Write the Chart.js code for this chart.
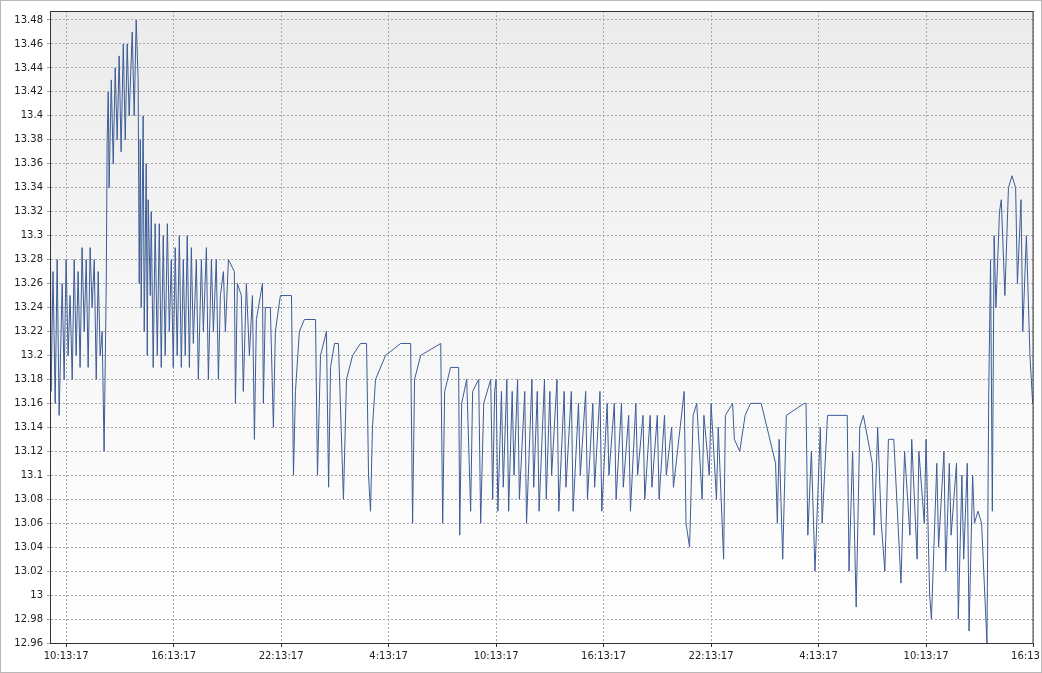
<!DOCTYPE html>
<html>
<head>
<meta charset="utf-8">
<script src="https://cdn.jsdelivr.net/npm/chart.js@4/dist/chart.umd.min.js"></script>
<style>
  html, body { margin: 0; padding: 0; background: #fff; overflow: hidden; }
  #wrap { width: 1042px; height: 673px; box-sizing: border-box; border: 1px solid #b8b8b8; overflow: hidden; }
</style>
</head>
<body>
<div id="wrap"><canvas id="volts" width="1058" height="671"></canvas></div>
<script>
// hours since 10:13:17 on the first day
const hours = [
  -0.89, -0.84, -0.73, -0.61, -0.50, -0.39, -0.22, -0.11, 0.00, 0.11, 0.22, 0.34, 0.45, 0.56, 0.67, 0.78,
  0.89, 1.01, 1.12, 1.23, 1.34, 1.45, 1.57, 1.68, 1.79, 1.90, 2.01, 2.12, 2.24, 2.29, 2.35, 2.40,
  2.52, 2.63, 2.74, 2.85, 2.96, 3.07, 3.19, 3.30, 3.41, 3.52, 3.69, 3.80, 3.91, 4.02, 4.08, 4.14,
  4.19, 4.30, 4.36, 4.47, 4.53, 4.58, 4.70, 4.75, 4.86, 4.97, 5.09, 5.20, 5.31, 5.42, 5.53, 5.65,
  5.76, 5.87, 5.98, 6.09, 6.20, 6.32, 6.43, 6.54, 6.65, 6.76, 6.88, 6.99, 7.10, 7.27, 7.38, 7.55,
  7.66, 7.83, 7.94, 8.11, 8.22, 8.38, 8.50, 8.61, 8.78, 8.89, 9.06, 9.39, 9.45, 9.56, 9.78, 9.89,
  10.06, 10.23, 10.40, 10.51, 10.62, 10.96, 11.01, 11.12, 11.40, 11.57, 11.68, 11.96, 12.58, 12.69, 12.80, 13.02,
  13.30, 13.92, 14.03, 14.20, 14.53, 14.65, 14.76, 14.98, 15.20, 15.48, 15.65, 15.99, 16.43, 16.77, 16.88, 16.99,
  17.10, 17.27, 17.83, 18.67, 19.23, 19.34, 19.45, 19.79, 20.91, 21.02, 21.13, 21.46, 21.91, 21.97, 22.08, 22.36,
  22.58, 22.69, 23.03, 23.14, 23.31, 23.70, 23.81, 23.92,
  24.0, 24.1, 24.3, 24.4, 24.6, 24.7, 24.9, 25.0, 25.2, 25.3, 25.6, 25.7, 26.0, 26.1, 26.3, 26.4,
  26.7, 26.8, 27.0, 27.1, 27.4, 27.5, 27.8, 27.9, 28.2, 28.3, 28.6, 28.7, 29.0, 29.1, 29.4, 29.5,
  29.8, 29.9, 30.2, 30.3, 30.6, 30.7, 31.0, 31.1, 31.4, 31.5, 31.8, 31.9, 32.2, 32.3, 32.6, 32.7,
  33.0, 33.1, 33.4, 33.5, 33.8, 33.9, 34.5, 34.6, 34.8, 35.0, 35.2, 35.5, 35.6, 35.9, 36.0, 36.3,
  36.4, 36.7, 36.8, 37.2, 37.3, 37.6, 37.9, 38.2, 38.5, 38.8, 39.6, 39.7, 39.8, 40.0, 40.2, 41.2,
  41.3, 41.4, 41.6, 41.8, 42.1, 42.2, 42.5, 43.6, 43.7, 43.9, 44.1, 44.3, 44.5, 45.0, 45.1, 45.3,
  45.5, 45.7, 45.9, 46.2, 46.3, 46.6, 46.8, 47.1, 47.2, 47.5, 47.6, 47.9, 48.0, 48.2, 48.3, 48.6,
  48.7, 49.0, 49.1, 49.3, 49.4, 49.7, 49.8, 50.0, 50.1, 50.3, 50.4, 50.6, 50.7, 50.9, 51.1, 51.4,
  51.5, 51.6, 51.7, 51.8, 51.9, 52.1, 52.2, 52.4, 52.6, 52.8, 53.0, 53.1, 53.3, 53.4, 53.6, 53.8, 53.95
];
const volts = [
  13.35, 13.17, 13.27, 13.16, 13.28, 13.15, 13.26, 13.18, 13.28, 13.20, 13.25, 13.18, 13.28, 13.20, 13.27, 13.19,
  13.29, 13.22, 13.28, 13.19, 13.29, 13.24, 13.28, 13.18, 13.27, 13.20, 13.22, 13.12, 13.26, 13.38, 13.42, 13.34,
  13.43, 13.36, 13.44, 13.38, 13.45, 13.37, 13.46, 13.38, 13.46, 13.40, 13.47, 13.40, 13.48, 13.43, 13.26, 13.38,
  13.24, 13.40, 13.22, 13.36, 13.20, 13.33, 13.25, 13.32, 13.19, 13.31, 13.20, 13.31, 13.19, 13.30, 13.20, 13.31,
  13.22, 13.28, 13.19, 13.29, 13.20, 13.30, 13.19, 13.28, 13.20, 13.30, 13.19, 13.29, 13.21, 13.28, 13.18, 13.28,
  13.22, 13.29, 13.18, 13.28, 13.22, 13.28, 13.18, 13.25, 13.27, 13.22, 13.28, 13.27, 13.16, 13.26, 13.25, 13.17,
  13.26, 13.20, 13.25, 13.13, 13.23, 13.26, 13.16, 13.24, 13.24, 13.14, 13.22, 13.25, 13.25, 13.10, 13.17, 13.22,
  13.23, 13.23, 13.10, 13.20, 13.22, 13.09, 13.19, 13.21, 13.21, 13.08, 13.18, 13.20, 13.21, 13.21, 13.10, 13.07,
  13.14, 13.18, 13.20, 13.21, 13.21, 13.06, 13.18, 13.20, 13.21, 13.06, 13.17, 13.19, 13.19, 13.05, 13.16, 13.18,
  13.07, 13.17, 13.18, 13.06, 13.16, 13.18, 13.08, 13.17,
  13.18, 13.07, 13.17, 13.09, 13.18, 13.07, 13.17, 13.10, 13.18, 13.08, 13.17, 13.06, 13.18, 13.09, 13.17, 13.07,
  13.18, 13.08, 13.17, 13.10, 13.18, 13.07, 13.17, 13.09, 13.17, 13.07, 13.16, 13.10, 13.17, 13.08, 13.16, 13.09,
  13.17, 13.07, 13.16, 13.10, 13.16, 13.08, 13.16, 13.09, 13.15, 13.07, 13.16, 13.10, 13.15, 13.08, 13.15, 13.09,
  13.15, 13.08, 13.15, 13.10, 13.14, 13.09, 13.17, 13.06, 13.04, 13.15, 13.16, 13.08, 13.15, 13.10, 13.16, 13.08,
  13.14, 13.03, 13.15, 13.16, 13.13, 13.12, 13.15, 13.16, 13.16, 13.16, 13.11, 13.06, 13.13, 13.03, 13.15, 13.16,
  13.16, 13.05, 13.12, 13.02, 13.14, 13.06, 13.15, 13.15, 13.02, 13.12, 12.99, 13.14, 13.15, 13.11, 13.05, 13.14,
  13.06, 13.02, 13.13, 13.13, 13.10, 13.01, 13.12, 13.05, 13.13, 13.03, 13.12, 13.06, 13.13, 13.00, 12.98, 13.11,
  13.04, 13.12, 13.02, 13.11, 13.05, 13.11, 12.98, 13.10, 13.03, 13.11, 12.97, 13.10, 13.06, 13.07, 13.06, 12.96,
  13.17, 13.28, 13.07, 13.30, 13.24, 13.32, 13.33, 13.25, 13.34, 13.35, 13.34, 13.26, 13.33, 13.22, 13.30, 13.20, 13.16
];
const yTicksMin = 12.96;
const yTicksMax = 13.4875;
const xMin = -0.9;
const xMax = 54;
const tickHours = 6;

const points = hours.map((h, i) => ({ x: h, y: volts[i] }));

function clock(v) {
  let h = (10 + Math.round(v)) % 24;
  return h + ":13:17";
}

// grey-to-white wash behind the plot, and the dark frame
const plotBack = {
  id: "plotBack",
  beforeDraw(chart) {
    const a = chart.chartArea, c = chart.ctx;
    const g = c.createLinearGradient(0, a.top, 0, a.bottom);
    g.addColorStop(0, "#ebebeb");
    g.addColorStop(0.45, "#f6f6f6");
    g.addColorStop(1, "#ffffff");
    c.save();
    c.fillStyle = g;
    c.fillRect(a.left, a.top, a.right - a.left, a.bottom - a.top);
    c.restore();
  },
  afterDraw(chart) {
    const a = chart.chartArea, c = chart.ctx;
    c.save();
    c.strokeStyle = "#333";
    c.lineWidth = 1;
    c.strokeRect(a.left + 0.5, a.top + 0.5, a.right - a.left - 1, a.bottom - a.top);
    c.restore();
  }
};

new Chart(document.getElementById("volts").getContext("2d"), {
  type: "line",
  data: {
    datasets: [{
      data: points,
      borderColor: "#3d5c96",
      borderWidth: 1,
      pointRadius: 0,
      tension: 0,
    }],
  },
  options: {
    responsive: false,
    animation: false,
    layout: { padding: { top: 9, right: 0 } },
    plugins: { legend: { display: false }, tooltip: { enabled: false } },
    scales: {
      x: {
        type: "linear",
        min: xMin,
        max: xMax,
        afterFit: (s) => { s.height = 29; },
        grid: { color: "#a8a8a8", tickColor: "#333", tickLength: 4 },
        border: { color: "#333", dash: [2, 2] },
        ticks: {
          stepSize: tickHours,
          includeBounds: false,
          maxRotation: 0,
          autoSkip: false,
          color: "#222",
          font: { family: "DejaVu Sans", size: 10 },
          padding: 3,
          callback: (v) => clock(v),
        },
      },
      y: {
        min: yTicksMin,
        max: yTicksMax,
        afterFit: (s) => { s.width = 49; },
        grid: { color: "#a8a8a8", tickLength: 3 },
        border: { color: "#333", dash: [2, 2] },
        ticks: {
          stepSize: 0.02,
          includeBounds: false,
          color: "#222",
          font: { family: "DejaVu Sans", size: 10 },
          padding: 4,
          callback: (v) => String(Number(v.toFixed(2))),
        },
      },
    },
  },
  plugins: [plotBack],
});
</script>
</body>
</html>
